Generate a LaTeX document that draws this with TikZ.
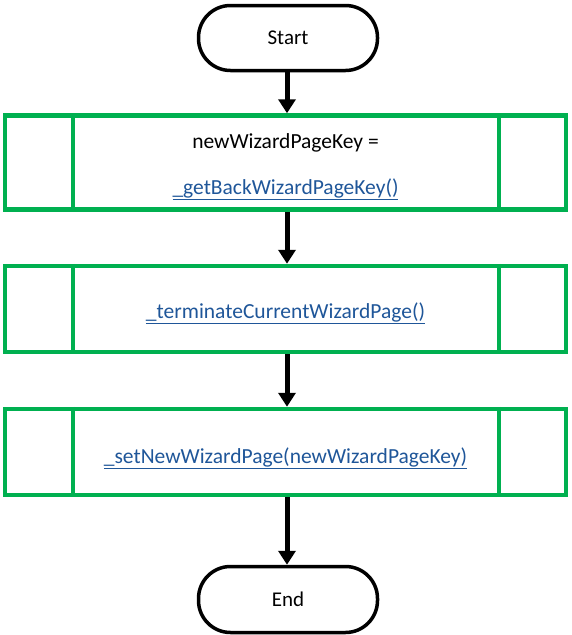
\documentclass[tikz,border=0pt]{standalone}
\usepackage{fontspec}
\setmainfont{Carlito}
\usetikzlibrary{arrows.meta}
\definecolor{boxgreen}{RGB}{0,176,80}
\definecolor{linkblue}{RGB}{31,86,153}
\newcommand{\codelink}[1]{\textcolor{linkblue}{\underline{#1}}}
\tikzset{
  terminal/.style={draw=black, line width=3.5pt, rounded corners=32pt,
    minimum width=179pt, minimum height=65pt, fill=white,
    font=\fontsize{21}{25}\selectfont},
  procbox/.style={draw=boxgreen, line width=4.5pt, minimum width=561pt},
  boxtext/.style={align=center, font=\fontsize{21.5}{26}\selectfont},
  flow/.style={-{Triangle[length=14pt,width=17pt]}, line width=5pt, black},
  sideline/.style={draw=boxgreen, line width=4.5pt}
}
\begin{document}
\begin{tikzpicture}[x=1pt,y=-1pt]
  \useasboundingbox (0,0) rectangle (571,635);

  % terminals
  \node[terminal] (start) at (288,38) {Start};
  \node[terminal, minimum height=66pt] (end) at (288,599.5) {End};

  % predefined-process boxes
  \node[procbox, minimum height=94pt] (p1) at (285.5,162.5) {};
  \node[procbox, minimum height=86pt] (p2) at (285.5,309) {};
  \node[procbox, minimum height=86pt] (p3) at (285.5,452) {};

  % box contents
  \node[boxtext] (t1) at ([yshift=-4pt]p1.center)
    {newWizardPageKey =\\[20pt]\codelink{\_getBackWizardPageKey()}};
  \node[boxtext] (t2) at ([yshift=-4pt]p2.center)
    {\codelink{\_terminateCurrentWizardPage()}};
  \node[boxtext] (t3) at ([yshift=-6pt]p3.center)
    {\codelink{\_setNewWizardPage(newWizardPageKey)}};

  % side bars of each box
  \foreach \b in {p1,p2,p3} {
    \draw[sideline] ([xshift=-212.5pt]\b.north) -- ([xshift=-212.5pt]\b.south);
    \draw[sideline] ([xshift=213.5pt]\b.north) -- ([xshift=213.5pt]\b.south);
  }

  % connectors
  \draw[flow] ([xshift=-1pt]start.south) -- ([xshift=1.5pt]p1.north);
  \draw[flow] ([xshift=1.5pt]p1.south) -- ([xshift=1.5pt]p2.north);
  \draw[flow] ([xshift=1.5pt]p2.south) -- ([xshift=1.5pt]p3.north);
  \draw[flow] ([xshift=1.5pt]p3.south) -- ([xshift=-1pt]end.north);
\end{tikzpicture}
\end{document}
